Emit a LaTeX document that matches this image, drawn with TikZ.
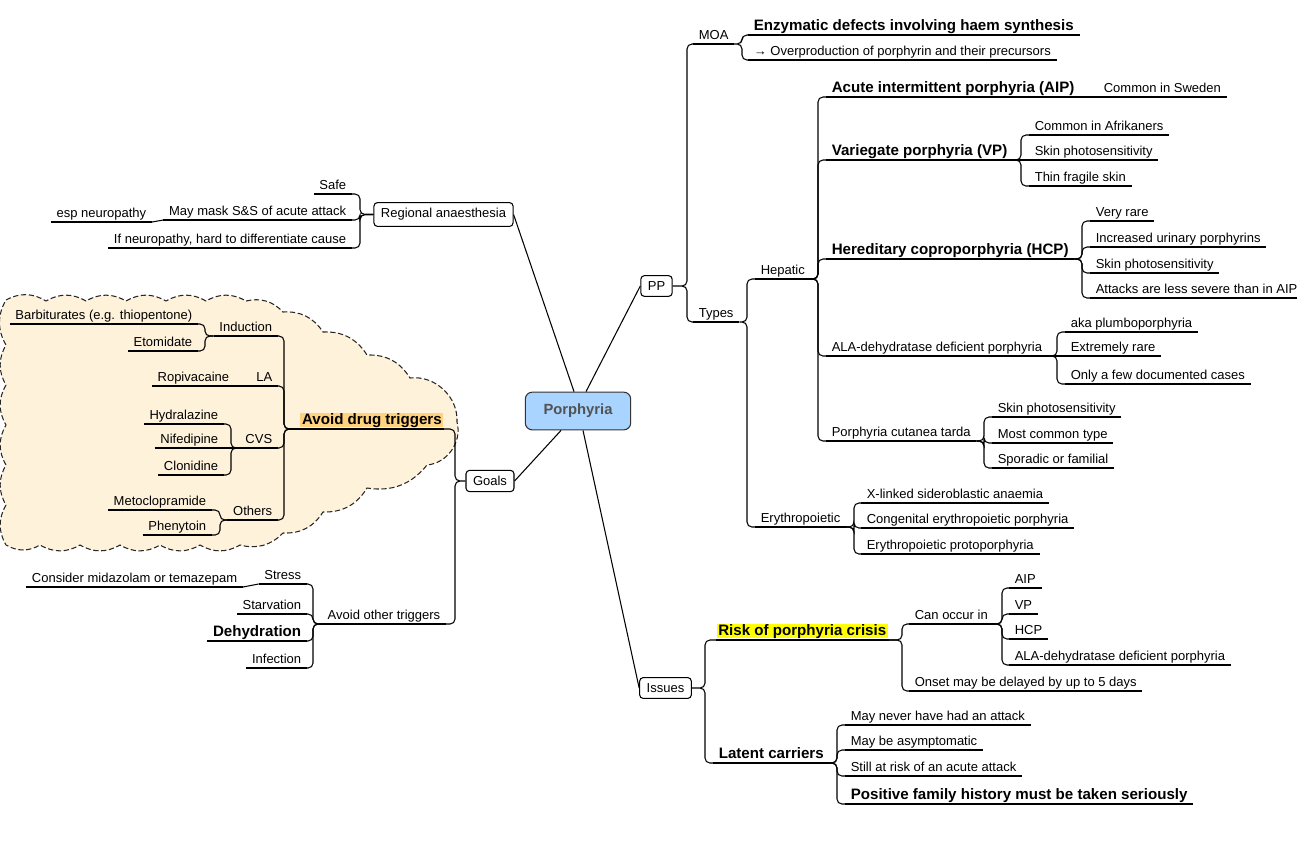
\documentclass[tikz,border=0pt]{standalone}
\usepackage{fontspec}
\setmainfont{Liberation Sans}
\usepackage{tikz}
\usetikzlibrary{calc,positioning}
\definecolor{cloudbg}{HTML}{FFF2DB}
\definecolor{hlyellow}{HTML}{FFFF00}
\definecolor{hlorange}{HTML}{FFD27F}
\definecolor{ctrblue}{HTML}{A9D4FF}
\tikzset{
  topic/.style={inner xsep=3pt,inner ysep=0.4pt,text height=6pt,text depth=1.9pt,
    font=\fontsize{7.4}{9}\selectfont,
    append after command={(\tikzlastnode.south west) edge (\tikzlastnode.south east)}},
  rtopic/.style={topic,anchor=south west},
  ltopic/.style={topic,anchor=south east},
  big/.style={font=\fontsize{8.6}{10}\selectfont\bfseries},
  hl/.style={fill=#1,inner xsep=1pt,inner ysep=0pt,outer ysep=1.3pt,text height=6.7pt,text depth=1.2pt},
  box/.style={draw,rounded corners=2pt,fill=white,inner xsep=4pt,minimum height=11.3pt,
    font=\fontsize{7.4}{9}\selectfont},
  ctr/.style={draw=black!80,fill=ctrblue,rounded corners=4pt,minimum width=60pt,minimum height=21.5pt,
    font=\fontsize{8.4}{10}\selectfont\bfseries,text=black!68},
  drugcloud/.style={draw=black!85,fill=cloudbg,dash pattern=on 3pt off 1.5pt},
  puff/.style={bend left=30},
  rb/.style={to path={(\tikztostart) [rounded corners=2.8pt] -| ($(\tikztotarget)+(-#1,0)$) -- (\tikztotarget)}},
  rb/.default=8,
  lb/.style={to path={(\tikztostart) [rounded corners=2.8pt] -| ($(\tikztotarget)+(#1,0)$) -- (\tikztotarget)}},
  lb/.default=8
}

\begin{document}
\begin{tikzpicture}[x=0.02cm,y=-0.02cm,line width=0.6pt]
  \useasboundingbox (0,0) rectangle (1297,843);
  % cloud round the drug triggers
  \draw[drugcloud] (6,300)
    \foreach \x in {46,86,126,166,206,246} {to[puff] (\x,301)}
    to[puff] (283,312) to[puff] (323,332) to[puff] (367,355) to[puff] (410,378)
    to[bend left=50] (457,422) to[bend left=50] (427,465)
    to[puff] (367,488) to[puff] (323,512) to[puff] (283,533) to[puff] (240,545)
    \foreach \x in {200,160,120,80,40,6} {to[puff] (\x,545)}
    \foreach \y in {505,465,425,385,345,300} {to[puff] (6,\y)} -- cycle;

  % main boxes
  \node[ctr] (por) at (578,411) {Porphyria};
  \node[box] (pp) at (656.5,286) {PP};
  \node[box] (reg) at (443.5,214.5) {Regional anaesthesia};
  \node[box] (goals) at (490,481) {Goals};
  \node[box] (issues) at (665.5,688) {Issues};

  % PP
  \node[rtopic] (moa) at (693,44) {MOA};
  \node[rtopic,big] (enz) at (748,35) {Enzymatic defects involving haem synthesis};
  \node[rtopic] (over) at (748,60) {→ Overproduction of porphyrin and their precursors};
  \node[rtopic] (types) at (693,322) {Types};
  \node[rtopic] (hep) at (755,279) {Hepatic};
  \node[rtopic] (ery) at (755,527) {Erythropoietic};
  \node[rtopic,big] (aip) at (826,97) {Acute intermittent porphyria (AIP)};
  \node[rtopic] (swe) at (1098,97) {Common in Sweden};
  \node[rtopic,big] (vp) at (826,160) {Variegate porphyria (VP)};
  \node[rtopic] (afr) at (1029,135) {Common in Afrikaners};
  \node[rtopic] (vpskin) at (1029,160) {Skin photosensitivity};
  \node[rtopic] (thin) at (1029,186) {Thin fragile skin};
  \node[rtopic,big] (hcp) at (826,259) {Hereditary coproporphyria (HCP)};
  \node[rtopic] (rare) at (1090,221) {Very rare};
  \node[rtopic] (urin) at (1090,247) {Increased urinary porphyrins};
  \node[rtopic] (hcpskin) at (1090,273) {Skin photosensitivity};
  \node[rtopic] (less) at (1090,298) {Attacks are less severe than in AIP};
  \node[rtopic] (ala) at (826,356) {ALA-dehydratase deficient porphyria};
  \node[rtopic] (plumbo) at (1065,332) {aka plumboporphyria};
  \node[rtopic] (xrare) at (1065,356) {Extremely rare};
  \node[rtopic] (few) at (1065,384) {Only a few documented cases};
  \node[rtopic] (pct) at (826,441) {Porphyria cutanea tarda};
  \node[rtopic] (pctskin) at (992,417) {Skin photosensitivity};
  \node[rtopic] (most) at (992,443) {Most common type};
  \node[rtopic] (spor) at (992,468) {Sporadic or familial};
  \node[rtopic] (xlink) at (861,503) {X-linked sideroblastic anaemia};
  \node[rtopic] (cep) at (861,528) {Congenital erythropoietic porphyria};
  \node[rtopic] (epp) at (861,554) {Erythropoietic protoporphyria};

  % Issues
  \node[rtopic,big,hl=hlyellow] (risk) at (716,640) {Risk of porphyria crisis};
  \node[rtopic] (can) at (909,624) {Can occur in};
  \node[rtopic] (caip) at (1009,588) {AIP};
  \node[rtopic] (cvp) at (1009,614) {VP};
  \node[rtopic] (chcp) at (1009,639) {HCP};
  \node[rtopic] (cala) at (1009,665) {ALA-dehydratase deficient porphyria};
  \node[rtopic] (onset) at (909,691) {Onset may be delayed by up to 5 days};
  \node[rtopic,big] (latent) at (713,763) {Latent carriers};
  \node[rtopic] (never) at (845,725) {May never have had an attack};
  \node[rtopic] (asym) at (845,750) {May be asymptomatic};
  \node[rtopic] (still) at (845,776) {Still at risk of an acute attack};
  \node[rtopic,big] (fam) at (845,804) {Positive family history must be taken seriously};

  % Regional anaesthesia
  \node[ltopic] (safe) at (352,194) {Safe};
  \node[ltopic] (mask) at (352,220) {May mask S\&S of acute attack};
  \node[ltopic] (esp) at (152,222) {esp neuropathy};
  \node[ltopic] (diff) at (352,248) {If neuropathy, hard to differentiate cause};

  % Goals
  \node[ltopic,big,hl=hlorange] (adt) at (444,429) {Avoid drug triggers};
  \node[ltopic] (ind) at (278,336) {Induction};
  \node[ltopic] (barb) at (198,324) {Barbiturates (e.g. thiopentone)};
  \node[ltopic] (etom) at (198,351) {Etomidate};
  \node[ltopic] (la) at (278,386) {LA};
  \node[ltopic] (ropi) at (235,386) {Ropivacaine};
  \node[ltopic] (cvs) at (278,448) {CVS};
  \node[ltopic] (hydr) at (224,424) {Hydralazine};
  \node[ltopic] (nife) at (224,448) {Nifedipine};
  \node[ltopic] (clon) at (224,475) {Clonidine};
  \node[ltopic] (oth) at (278,520) {Others};
  \node[ltopic] (meto) at (212,510) {Metoclopramide};
  \node[ltopic] (phen) at (212,535) {Phenytoin};
  \node[ltopic] (aot) at (446,624) {Avoid other triggers};
  \node[ltopic] (stress) at (307,584) {Stress};
  \node[ltopic] (midaz) at (243,587) {Consider midazolam or temazepam};
  \node[ltopic] (starv) at (307,614) {Starvation};
  \node[ltopic,big] (dehyd) at (307,641) {Dehydration};
  \node[ltopic] (infec) at (307,668) {Infection};

  % branches from the centre
  \draw ($(por.north)+(-4,0)$) -- (reg.east);
  \draw ($(por.north)+(8,0)$) -- (pp.west);
  \draw ($(por.south)+(-17,0)$) -- (goals.east);
  \draw ($(por.south)+(5,0)$) -- (issues.west);

  % right side
  \draw (pp.east) to[rb=6] (moa.south west) (pp.east) to[rb=6] (types.south west);
  \draw (moa.south east) to[rb=6] (enz.south west) (moa.south east) to[rb=6] (over.south west);
  \draw (types.south east) to[rb] (hep.south west) (types.south east) to[rb] (ery.south west);
  \foreach \c in {aip,vp,hcp,ala,pct} \draw (hep.south east) to[rb] (\c.south west);
  \draw (aip.south east) -- (swe.south west);
  \foreach \c in {afr,thin} \draw (vp.south east) to[rb] (\c.south west);
  \draw (vp.south east) -- (vpskin.south west);
  \foreach \c in {rare,urin,hcpskin,less} \draw (hcp.south east) to[rb] (\c.south west);
  \foreach \c in {plumbo,few} \draw (ala.south east) to[rb] (\c.south west);
  \draw (ala.south east) -- (xrare.south west);
  \foreach \c in {pctskin,most,spor} \draw (pct.south east) to[rb] (\c.south west);
  \foreach \c in {xlink,cep,epp} \draw (ery.south east) to[rb=7] (\c.south west);
  \draw (issues.east) to[rb=11] (risk.south west) (issues.east) to[rb=8] (latent.south west);
  \foreach \c in {can,onset} \draw (risk.south east) to[rb=7] (\c.south west);
  \foreach \c in {caip,cvp,chcp,cala} \draw (can.south east) to[rb=7] (\c.south west);
  \foreach \c in {never,asym,still,fam} \draw (latent.south east) to[rb] (\c.south west);

  % left side
  \foreach \c in {safe,mask,diff} \draw (reg.west) to[lb] (\c.south east);
  \draw (mask.south west) -- (esp.south east);
  \draw (goals.west) to[lb=11] (adt.south east) (goals.west) to[lb=9] (aot.south east);
  \foreach \c in {ind,la,cvs,oth} \draw (adt.south west) to[lb=6] (\c.south east);
  \foreach \c in {barb,etom} \draw (ind.south west) to[lb=7] (\c.south east);
  \draw (la.south west) -- (ropi.south east);
  \foreach \c in {hydr,clon} \draw (cvs.south west) to[lb=7] (\c.south east);
  \draw (cvs.south west) -- (nife.south east);
  \foreach \c in {meto,phen} \draw (oth.south west) to[lb] (\c.south east);
  \foreach \c in {stress,starv,dehyd,infec} \draw (aot.south west) to[lb=6] (\c.south east);
  \draw (stress.south west) -- (midaz.south east);
\end{tikzpicture}
\end{document}
